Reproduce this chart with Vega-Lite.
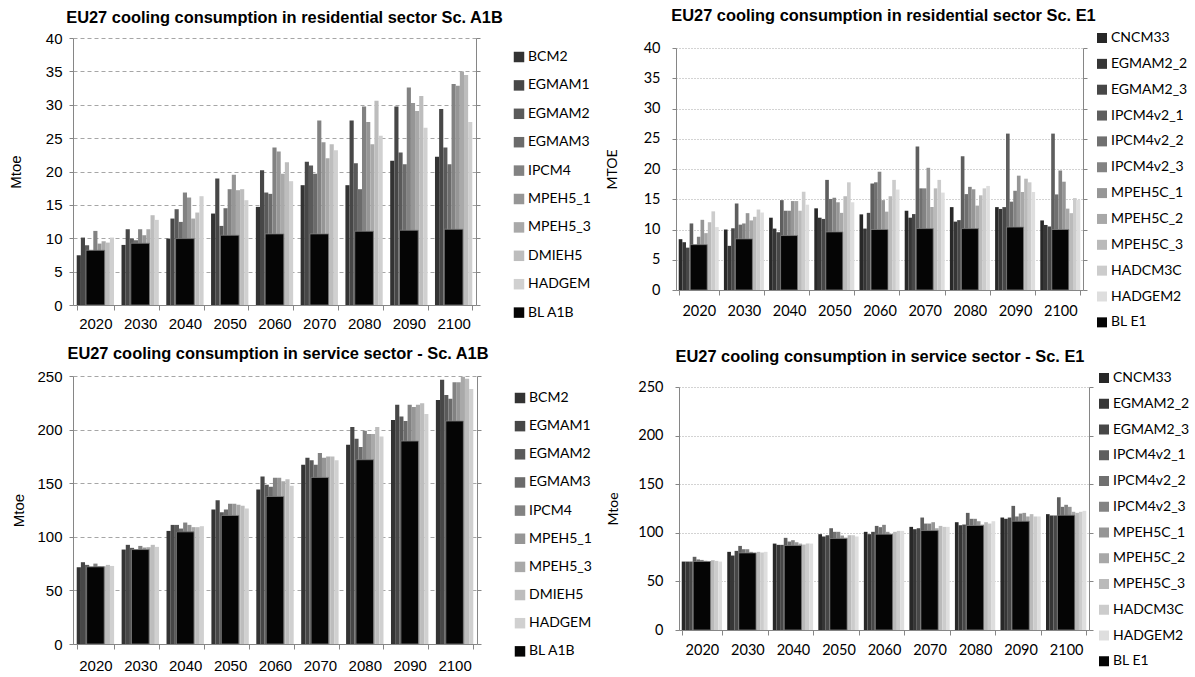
{
"$schema": "https://vega.github.io/schema/vega-lite/v6.json",
"background": "white",
"padding": {"left": 8, "top": 7, "right": 0, "bottom": 0},
"config": {"view": {"stroke": null}, "axis": {"domainColor": "#868686", "tickColor": "#868686", "labelColor": "#000000", "titleColor": "#000000"}},
"datasets": {
"p1": [
{"year":"2020","model":"BCM2","value":7.45},{"year":"2020","model":"EGMAM1","value":10.1},{"year":"2020","model":"EGMAM2","value":8.95},{"year":"2020","model":"EGMAM3","value":7.9},{"year":"2020","model":"IPCM4","value":11.1},{"year":"2020","model":"MPEH5_1","value":9.2},{"year":"2020","model":"MPEH5_3","value":9.55},{"year":"2020","model":"DMIEH5","value":9.35},{"year":"2020","model":"HADGEM","value":10.1},
{"year":"2030","model":"BCM2","value":9.0},{"year":"2030","model":"EGMAM1","value":11.35},{"year":"2030","model":"EGMAM2","value":9.95},{"year":"2030","model":"EGMAM3","value":9.7},{"year":"2030","model":"IPCM4","value":11.35},{"year":"2030","model":"MPEH5_1","value":10.45},{"year":"2030","model":"MPEH5_3","value":11.35},{"year":"2030","model":"DMIEH5","value":13.45},{"year":"2030","model":"HADGEM","value":12.75},
{"year":"2040","model":"BCM2","value":9.95},{"year":"2040","model":"EGMAM1","value":12.95},{"year":"2040","model":"EGMAM2","value":14.35},{"year":"2040","model":"EGMAM3","value":12.45},{"year":"2040","model":"IPCM4","value":16.85},{"year":"2040","model":"MPEH5_1","value":16.1},{"year":"2040","model":"MPEH5_3","value":12.95},{"year":"2040","model":"DMIEH5","value":13.85},{"year":"2040","model":"HADGEM","value":16.3},
{"year":"2050","model":"BCM2","value":13.7},{"year":"2050","model":"EGMAM1","value":18.95},{"year":"2050","model":"EGMAM2","value":11.85},{"year":"2050","model":"EGMAM3","value":14.5},{"year":"2050","model":"IPCM4","value":17.35},{"year":"2050","model":"MPEH5_1","value":19.5},{"year":"2050","model":"MPEH5_3","value":17.2},{"year":"2050","model":"DMIEH5","value":17.35},{"year":"2050","model":"HADGEM","value":15.7},
{"year":"2060","model":"BCM2","value":14.7},{"year":"2060","model":"EGMAM1","value":20.2},{"year":"2060","model":"EGMAM2","value":16.85},{"year":"2060","model":"EGMAM3","value":16.65},{"year":"2060","model":"IPCM4","value":23.6},{"year":"2060","model":"MPEH5_1","value":23.0},{"year":"2060","model":"MPEH5_3","value":19.65},{"year":"2060","model":"DMIEH5","value":21.4},{"year":"2060","model":"HADGEM","value":18.55},
{"year":"2070","model":"BCM2","value":17.95},{"year":"2070","model":"EGMAM1","value":21.45},{"year":"2070","model":"EGMAM2","value":20.9},{"year":"2070","model":"EGMAM3","value":19.65},{"year":"2070","model":"IPCM4","value":27.65},{"year":"2070","model":"MPEH5_1","value":24.4},{"year":"2070","model":"MPEH5_3","value":22.0},{"year":"2070","model":"DMIEH5","value":24.1},{"year":"2070","model":"HADGEM","value":23.2},
{"year":"2080","model":"BCM2","value":17.95},{"year":"2080","model":"EGMAM1","value":27.65},{"year":"2080","model":"EGMAM2","value":21.25},{"year":"2080","model":"EGMAM3","value":17.35},{"year":"2080","model":"IPCM4","value":29.75},{"year":"2080","model":"MPEH5_1","value":27.4},{"year":"2080","model":"MPEH5_3","value":24.1},{"year":"2080","model":"DMIEH5","value":30.6},{"year":"2080","model":"HADGEM","value":25.35},
{"year":"2090","model":"BCM2","value":21.6},{"year":"2090","model":"EGMAM1","value":29.75},{"year":"2090","model":"EGMAM2","value":22.85},{"year":"2090","model":"EGMAM3","value":21.1},{"year":"2090","model":"IPCM4","value":32.6},{"year":"2090","model":"MPEH5_1","value":30.25},{"year":"2090","model":"MPEH5_3","value":29.05},{"year":"2090","model":"DMIEH5","value":31.3},{"year":"2090","model":"HADGEM","value":26.55},
{"year":"2100","model":"BCM2","value":22.2},{"year":"2100","model":"EGMAM1","value":29.35},{"year":"2100","model":"EGMAM2","value":23.6},{"year":"2100","model":"EGMAM3","value":21.1},{"year":"2100","model":"IPCM4","value":33.1},{"year":"2100","model":"MPEH5_1","value":32.85},{"year":"2100","model":"MPEH5_3","value":35.0},{"year":"2100","model":"DMIEH5","value":34.45},{"year":"2100","model":"HADGEM","value":27.4}
],
"p1bl": [
{"year":"2020","model":"BL A1B","value":8.2},{"year":"2030","model":"BL A1B","value":9.25},{"year":"2040","model":"BL A1B","value":9.95},{"year":"2050","model":"BL A1B","value":10.45},{"year":"2060","model":"BL A1B","value":10.65},{"year":"2070","model":"BL A1B","value":10.65},{"year":"2080","model":"BL A1B","value":11.05},{"year":"2090","model":"BL A1B","value":11.2},{"year":"2100","model":"BL A1B","value":11.35}
],
"p2": [
{"year":"2020","model":"CNCM33","value":8.4},{"year":"2020","model":"EGMAM2_2","value":7.9},{"year":"2020","model":"EGMAM2_3","value":7.0},{"year":"2020","model":"IPCM4v2_1","value":11.0},{"year":"2020","model":"IPCM4v2_2","value":7.3},{"year":"2020","model":"IPCM4v2_3","value":8.8},{"year":"2020","model":"MPEH5C_1","value":11.6},{"year":"2020","model":"MPEH5C_2","value":9.4},{"year":"2020","model":"MPEH5C_3","value":11.2},{"year":"2020","model":"HADCM3C","value":13.0},{"year":"2020","model":"HADGEM2","value":10.4},
{"year":"2030","model":"CNCM33","value":10.0},{"year":"2030","model":"EGMAM2_2","value":7.3},{"year":"2030","model":"EGMAM2_3","value":10.2},{"year":"2030","model":"IPCM4v2_1","value":14.3},{"year":"2030","model":"IPCM4v2_2","value":10.8},{"year":"2030","model":"IPCM4v2_3","value":11.0},{"year":"2030","model":"MPEH5C_1","value":12.7},{"year":"2030","model":"MPEH5C_2","value":11.5},{"year":"2030","model":"MPEH5C_3","value":12.1},{"year":"2030","model":"HADCM3C","value":13.3},{"year":"2030","model":"HADGEM2","value":12.8},
{"year":"2040","model":"CNCM33","value":11.95},{"year":"2040","model":"EGMAM2_2","value":10.15},{"year":"2040","model":"EGMAM2_3","value":9.55},{"year":"2040","model":"IPCM4v2_1","value":14.85},{"year":"2040","model":"IPCM4v2_2","value":13.1},{"year":"2040","model":"IPCM4v2_3","value":13.1},{"year":"2040","model":"MPEH5C_1","value":14.7},{"year":"2040","model":"MPEH5C_2","value":14.7},{"year":"2040","model":"MPEH5C_3","value":13.1},{"year":"2040","model":"HADCM3C","value":16.25},{"year":"2040","model":"HADGEM2","value":14.1},
{"year":"2050","model":"CNCM33","value":13.5},{"year":"2050","model":"EGMAM2_2","value":11.95},{"year":"2050","model":"EGMAM2_3","value":11.75},{"year":"2050","model":"IPCM4v2_1","value":18.2},{"year":"2050","model":"IPCM4v2_2","value":15.05},{"year":"2050","model":"IPCM4v2_3","value":15.25},{"year":"2050","model":"MPEH5C_1","value":14.5},{"year":"2050","model":"MPEH5C_2","value":12.75},{"year":"2050","model":"MPEH5C_3","value":15.5},{"year":"2050","model":"HADCM3C","value":17.8},{"year":"2050","model":"HADGEM2","value":14.5},
{"year":"2060","model":"CNCM33","value":12.5},{"year":"2060","model":"EGMAM2_2","value":10.15},{"year":"2060","model":"EGMAM2_3","value":12.75},{"year":"2060","model":"IPCM4v2_1","value":17.6},{"year":"2060","model":"IPCM4v2_2","value":17.8},{"year":"2060","model":"IPCM4v2_3","value":19.55},{"year":"2060","model":"MPEH5C_1","value":14.85},{"year":"2060","model":"MPEH5C_2","value":12.95},{"year":"2060","model":"MPEH5C_3","value":15.5},{"year":"2060","model":"HADCM3C","value":18.2},{"year":"2060","model":"HADGEM2","value":16.6},
{"year":"2070","model":"CNCM33","value":13.1},{"year":"2070","model":"EGMAM2_2","value":11.95},{"year":"2070","model":"EGMAM2_3","value":12.55},{"year":"2070","model":"IPCM4v2_1","value":23.7},{"year":"2070","model":"IPCM4v2_2","value":16.8},{"year":"2070","model":"IPCM4v2_3","value":16.8},{"year":"2070","model":"MPEH5C_1","value":20.2},{"year":"2070","model":"MPEH5C_2","value":13.7},{"year":"2070","model":"MPEH5C_3","value":16.8},{"year":"2070","model":"HADCM3C","value":18.2},{"year":"2070","model":"HADGEM2","value":16.1},
{"year":"2080","model":"CNCM33","value":13.7},{"year":"2080","model":"EGMAM2_2","value":11.3},{"year":"2080","model":"EGMAM2_3","value":11.55},{"year":"2080","model":"IPCM4v2_1","value":22.1},{"year":"2080","model":"IPCM4v2_2","value":15.85},{"year":"2080","model":"IPCM4v2_3","value":17.05},{"year":"2080","model":"MPEH5C_1","value":16.65},{"year":"2080","model":"MPEH5C_2","value":13.95},{"year":"2080","model":"MPEH5C_3","value":15.65},{"year":"2080","model":"HADCM3C","value":16.8},{"year":"2080","model":"HADGEM2","value":17.2},
{"year":"2090","model":"CNCM33","value":13.7},{"year":"2090","model":"EGMAM2_2","value":13.4},{"year":"2090","model":"EGMAM2_3","value":13.7},{"year":"2090","model":"IPCM4v2_1","value":25.85},{"year":"2090","model":"IPCM4v2_2","value":14.6},{"year":"2090","model":"IPCM4v2_3","value":16.4},{"year":"2090","model":"MPEH5C_1","value":18.9},{"year":"2090","model":"MPEH5C_2","value":16.2},{"year":"2090","model":"MPEH5C_3","value":18.4},{"year":"2090","model":"HADCM3C","value":17.8},{"year":"2090","model":"HADGEM2","value":16.2},
{"year":"2100","model":"CNCM33","value":11.5},{"year":"2100","model":"EGMAM2_2","value":10.75},{"year":"2100","model":"EGMAM2_3","value":10.5},{"year":"2100","model":"IPCM4v2_1","value":25.85},{"year":"2100","model":"IPCM4v2_2","value":15.8},{"year":"2100","model":"IPCM4v2_3","value":19.75},{"year":"2100","model":"MPEH5C_1","value":17.9},{"year":"2100","model":"MPEH5C_2","value":13.45},{"year":"2100","model":"MPEH5C_3","value":12.7},{"year":"2100","model":"HADCM3C","value":15.2},{"year":"2100","model":"HADGEM2","value":14.9}
],
"p2bl": [
{"year":"2020","model":"BL E1","value":7.5},{"year":"2030","model":"BL E1","value":8.45},{"year":"2040","model":"BL E1","value":9.0},{"year":"2050","model":"BL E1","value":9.6},{"year":"2060","model":"BL E1","value":10.0},{"year":"2070","model":"BL E1","value":10.15},{"year":"2080","model":"BL E1","value":10.15},{"year":"2090","model":"BL E1","value":10.4},{"year":"2100","model":"BL E1","value":10.0}
],
"p3": [
{"year":"2020","model":"BCM2","value":71.6},{"year":"2020","model":"EGMAM1","value":76.3},{"year":"2020","model":"EGMAM2","value":73.8},{"year":"2020","model":"EGMAM3","value":71.0},{"year":"2020","model":"IPCM4","value":75.0},{"year":"2020","model":"MPEH5_1","value":72.5},{"year":"2020","model":"MPEH5_3","value":72.5},{"year":"2020","model":"DMIEH5","value":73.8},{"year":"2020","model":"HADGEM","value":72.8},
{"year":"2030","model":"BCM2","value":88.1},{"year":"2030","model":"EGMAM1","value":92.5},{"year":"2030","model":"EGMAM2","value":89.7},{"year":"2030","model":"EGMAM3","value":88.0},{"year":"2030","model":"IPCM4","value":91.5},{"year":"2030","model":"MPEH5_1","value":90.0},{"year":"2030","model":"MPEH5_3","value":90.3},{"year":"2030","model":"DMIEH5","value":92.5},{"year":"2030","model":"HADGEM","value":90.6},
{"year":"2040","model":"BCM2","value":105.5},{"year":"2040","model":"EGMAM1","value":111.1},{"year":"2040","model":"EGMAM2","value":111.1},{"year":"2040","model":"EGMAM3","value":107.7},{"year":"2040","model":"IPCM4","value":113.3},{"year":"2040","model":"MPEH5_1","value":111.1},{"year":"2040","model":"MPEH5_3","value":109.0},{"year":"2040","model":"DMIEH5","value":109.0},{"year":"2040","model":"HADGEM","value":109.9},
{"year":"2050","model":"BCM2","value":125.5},{"year":"2050","model":"EGMAM1","value":134.2},{"year":"2050","model":"EGMAM2","value":123.0},{"year":"2050","model":"EGMAM3","value":125.5},{"year":"2050","model":"IPCM4","value":130.8},{"year":"2050","model":"MPEH5_1","value":130.8},{"year":"2050","model":"MPEH5_3","value":129.8},{"year":"2050","model":"DMIEH5","value":128.9},{"year":"2050","model":"HADGEM","value":126.4},
{"year":"2060","model":"BCM2","value":144.1},{"year":"2060","model":"EGMAM1","value":156.3},{"year":"2060","model":"EGMAM2","value":148.5},{"year":"2060","model":"EGMAM3","value":146.6},{"year":"2060","model":"IPCM4","value":155.0},{"year":"2060","model":"MPEH5_1","value":155.0},{"year":"2060","model":"MPEH5_3","value":151.9},{"year":"2060","model":"DMIEH5","value":153.8},{"year":"2060","model":"HADGEM","value":147.6},
{"year":"2070","model":"BCM2","value":167.2},{"year":"2070","model":"EGMAM1","value":173.7},{"year":"2070","model":"EGMAM2","value":171.5},{"year":"2070","model":"EGMAM3","value":167.2},{"year":"2070","model":"IPCM4","value":178.1},{"year":"2070","model":"MPEH5_1","value":173.7},{"year":"2070","model":"MPEH5_3","value":175.0},{"year":"2070","model":"DMIEH5","value":175.0},{"year":"2070","model":"HADGEM","value":171.5},
{"year":"2080","model":"BCM2","value":185.9},{"year":"2080","model":"EGMAM1","value":202.4},{"year":"2080","model":"EGMAM2","value":191.5},{"year":"2080","model":"EGMAM3","value":183.7},{"year":"2080","model":"IPCM4","value":199.0},{"year":"2080","model":"MPEH5_1","value":195.8},{"year":"2080","model":"MPEH5_3","value":195.8},{"year":"2080","model":"DMIEH5","value":202.4},{"year":"2080","model":"HADGEM","value":193.6},
{"year":"2090","model":"BCM2","value":208.9},{"year":"2090","model":"EGMAM1","value":223.2},{"year":"2090","model":"EGMAM2","value":212.3},{"year":"2090","model":"EGMAM3","value":208.0},{"year":"2090","model":"IPCM4","value":223.2},{"year":"2090","model":"MPEH5_1","value":221.0},{"year":"2090","model":"MPEH5_3","value":223.2},{"year":"2090","model":"DMIEH5","value":224.5},{"year":"2090","model":"HADGEM","value":214.5},
{"year":"2100","model":"BCM2","value":227.6},{"year":"2100","model":"EGMAM1","value":246.6},{"year":"2100","model":"EGMAM2","value":232.3},{"year":"2100","model":"EGMAM3","value":228.8},{"year":"2100","model":"IPCM4","value":244.1},{"year":"2100","model":"MPEH5_1","value":244.1},{"year":"2100","model":"MPEH5_3","value":249.4},{"year":"2100","model":"DMIEH5","value":247.5},{"year":"2100","model":"HADGEM","value":237.9}
],
"p3bl": [
{"year":"2020","model":"BL A1B","value":72.0},{"year":"2030","model":"BL A1B","value":88.1},{"year":"2040","model":"BL A1B","value":104.6},{"year":"2050","model":"BL A1B","value":119.9},{"year":"2060","model":"BL A1B","value":137.6},{"year":"2070","model":"BL A1B","value":155.4},{"year":"2080","model":"BL A1B","value":171.9},{"year":"2090","model":"BL A1B","value":189.3},{"year":"2100","model":"BL A1B","value":208.0}
],
"p4": [
{"year":"2020","model":"CNCM33","value":70.4},{"year":"2020","model":"EGMAM2_2","value":70.4},{"year":"2020","model":"EGMAM2_3","value":70.4},{"year":"2020","model":"IPCM4v2_1","value":75.3},{"year":"2020","model":"IPCM4v2_2","value":72.6},{"year":"2020","model":"IPCM4v2_3","value":72.1},{"year":"2020","model":"MPEH5C_1","value":71.2},{"year":"2020","model":"MPEH5C_2","value":70.5},{"year":"2020","model":"MPEH5C_3","value":71.8},{"year":"2020","model":"HADCM3C","value":71.1},{"year":"2020","model":"HADGEM2","value":70.4},
{"year":"2030","model":"CNCM33","value":80.4},{"year":"2030","model":"EGMAM2_2","value":76.6},{"year":"2030","model":"EGMAM2_3","value":81.4},{"year":"2030","model":"IPCM4v2_1","value":86.5},{"year":"2030","model":"IPCM4v2_2","value":83.1},{"year":"2030","model":"IPCM4v2_3","value":83.1},{"year":"2030","model":"MPEH5C_1","value":80.4},{"year":"2030","model":"MPEH5C_2","value":79.0},{"year":"2030","model":"MPEH5C_3","value":80.4},{"year":"2030","model":"HADCM3C","value":79.7},{"year":"2030","model":"HADGEM2","value":80.4},
{"year":"2040","model":"CNCM33","value":88.9},{"year":"2040","model":"EGMAM2_2","value":87.6},{"year":"2040","model":"EGMAM2_3","value":87.6},{"year":"2040","model":"IPCM4v2_1","value":94.8},{"year":"2040","model":"IPCM4v2_2","value":91.0},{"year":"2040","model":"IPCM4v2_3","value":92.4},{"year":"2040","model":"MPEH5C_1","value":90.3},{"year":"2040","model":"MPEH5C_2","value":88.9},{"year":"2040","model":"MPEH5C_3","value":87.9},{"year":"2040","model":"HADCM3C","value":88.9},{"year":"2040","model":"HADGEM2","value":88.9},
{"year":"2050","model":"CNCM33","value":98.6},{"year":"2050","model":"EGMAM2_2","value":96.2},{"year":"2050","model":"EGMAM2_3","value":97.5},{"year":"2050","model":"IPCM4v2_1","value":104.7},{"year":"2050","model":"IPCM4v2_2","value":101.0},{"year":"2050","model":"IPCM4v2_3","value":101.0},{"year":"2050","model":"MPEH5C_1","value":97.2},{"year":"2050","model":"MPEH5C_2","value":95.1},{"year":"2050","model":"MPEH5C_3","value":97.5},{"year":"2050","model":"HADCM3C","value":97.5},{"year":"2050","model":"HADGEM2","value":96.2},
{"year":"2060","model":"CNCM33","value":101.0},{"year":"2060","model":"EGMAM2_2","value":98.6},{"year":"2060","model":"EGMAM2_3","value":101.0},{"year":"2060","model":"IPCM4v2_1","value":107.1},{"year":"2060","model":"IPCM4v2_2","value":105.8},{"year":"2060","model":"IPCM4v2_3","value":108.2},{"year":"2060","model":"MPEH5C_1","value":101.0},{"year":"2060","model":"MPEH5C_2","value":98.6},{"year":"2060","model":"MPEH5C_3","value":101.0},{"year":"2060","model":"HADCM3C","value":102.0},{"year":"2060","model":"HADGEM2","value":102.0},
{"year":"2070","model":"CNCM33","value":106.1},{"year":"2070","model":"EGMAM2_2","value":103.7},{"year":"2070","model":"EGMAM2_3","value":104.7},{"year":"2070","model":"IPCM4v2_1","value":115.7},{"year":"2070","model":"IPCM4v2_2","value":109.5},{"year":"2070","model":"IPCM4v2_3","value":109.5},{"year":"2070","model":"MPEH5C_1","value":110.9},{"year":"2070","model":"MPEH5C_2","value":104.7},{"year":"2070","model":"MPEH5C_3","value":107.1},{"year":"2070","model":"HADCM3C","value":106.1},{"year":"2070","model":"HADGEM2","value":106.1},
{"year":"2080","model":"CNCM33","value":110.9},{"year":"2080","model":"EGMAM2_2","value":107.8},{"year":"2080","model":"EGMAM2_3","value":108.5},{"year":"2080","model":"IPCM4v2_1","value":120.5},{"year":"2080","model":"IPCM4v2_2","value":114.4},{"year":"2080","model":"IPCM4v2_3","value":114.4},{"year":"2080","model":"MPEH5C_1","value":111.9},{"year":"2080","model":"MPEH5C_2","value":108.5},{"year":"2080","model":"MPEH5C_3","value":110.9},{"year":"2080","model":"HADCM3C","value":109.5},{"year":"2080","model":"HADGEM2","value":111.9},
{"year":"2090","model":"CNCM33","value":115.7},{"year":"2090","model":"EGMAM2_2","value":114.4},{"year":"2090","model":"EGMAM2_3","value":115.7},{"year":"2090","model":"IPCM4v2_1","value":127.7},{"year":"2090","model":"IPCM4v2_2","value":116.8},{"year":"2090","model":"IPCM4v2_3","value":119.8},{"year":"2090","model":"MPEH5C_1","value":120.5},{"year":"2090","model":"MPEH5C_2","value":116.8},{"year":"2090","model":"MPEH5C_3","value":119.2},{"year":"2090","model":"HADCM3C","value":116.8},{"year":"2090","model":"HADGEM2","value":116.8},
{"year":"2100","model":"CNCM33","value":119.2},{"year":"2100","model":"EGMAM2_2","value":117.8},{"year":"2100","model":"EGMAM2_3","value":117.8},{"year":"2100","model":"IPCM4v2_1","value":136.7},{"year":"2100","model":"IPCM4v2_2","value":126.7},{"year":"2100","model":"IPCM4v2_3","value":128.8},{"year":"2100","model":"MPEH5C_1","value":126.7},{"year":"2100","model":"MPEH5C_2","value":121.6},{"year":"2100","model":"MPEH5C_3","value":120.5},{"year":"2100","model":"HADCM3C","value":121.6},{"year":"2100","model":"HADGEM2","value":122.6}
],
"p4bl": [
{"year":"2020","model":"BL E1","value":70.5},{"year":"2030","model":"BL E1","value":79.3},{"year":"2040","model":"BL E1","value":86.9},{"year":"2050","model":"BL E1","value":94.1},{"year":"2060","model":"BL E1","value":98.6},{"year":"2070","model":"BL E1","value":102.3},{"year":"2080","model":"BL E1","value":107.5},{"year":"2090","model":"BL E1","value":111.9},{"year":"2100","model":"BL E1","value":118.1}
]
},
"spacing": 14,
"resolve": {"scale": {"color": "independent", "x": "independent", "y": "independent", "xOffset": "independent"}, "legend": {"color": "independent"}},
"vconcat": [
{"hconcat": [
{"width": 403, "height": 267,
 "title": {"text": "EU27 cooling consumption in residential sector Sc. A1B", "font": "Liberation Sans", "fontSize": 16.4, "fontWeight": "bold", "color": "#000000", "offset": 5, "frame": "group", "anchor": "middle", "dx": 10},
 "resolve": {"scale": {"y": "independent"}, "axis": {"y": "independent"}},
 "layer": [
  {"data": {"name": "p1"}, "mark": {"type": "bar"},
   "encoding": {
    "x": {"field": "year", "type": "ordinal", "scale": {"paddingInner": 0.167, "paddingOuter": 0.083}, "axis": {"title": null, "labelAngle": 0, "tickBand": "extent", "tickSize": 5, "labelFont": "Liberation Sans", "labelFontSize": 15, "labelPadding": 6, "grid": false}},
    "xOffset": {"field": "model", "type": "nominal", "sort": ["BCM2","EGMAM1","EGMAM2","EGMAM3","IPCM4","MPEH5_1","MPEH5_3","DMIEH5","HADGEM"], "scale": {"paddingInner": 0, "paddingOuter": 0}},
    "y": {"field": "value", "type": "quantitative", "scale": {"domain": [0, 40], "nice": false}, "axis": {"title": "Mtoe", "titleFont": "Liberation Sans", "titleFontSize": 15, "titleFontWeight": "normal", "titlePadding": 22, "values": [0,5,10,15,20,25,30,35,40], "labelFont": "Liberation Sans", "labelFontSize": 15, "labelPadding": 7, "tickSize": 4, "grid": true, "gridColor": "#a6a6a6", "gridDash": [4, 3]}},
    "color": {"field": "model", "type": "nominal", "scale": {"domain": ["BCM2","EGMAM1","EGMAM2","EGMAM3","IPCM4","MPEH5_1","MPEH5_3","DMIEH5","HADGEM","BL A1B"], "range": ["#333333","#474747","#5a5a5a","#6b6b6b","#828282","#969696","#a9a9a9","#bdbdbd","#d0d0d0","#050505"]},
     "legend": {"orient": "none", "legendX": 439, "legendY": 12, "title": null, "symbolType": "square", "symbolSize": 110, "symbolStrokeWidth": 0, "labelFont": "Lato", "labelFontSize": 14, "labelColor": "#000000", "rowPadding": 14.4, "labelOffset": 2, "padding": 0}}
   }},
  {"data": {"name": "p1bl"}, "mark": {"type": "bar", "width": {"band": 0.5}, "stroke": "#808080", "strokeWidth": 0.8},
   "encoding": {
    "x": {"field": "year", "type": "ordinal", "scale": {"paddingInner": 0.167, "paddingOuter": 0.083}},
    "y": {"field": "value", "type": "quantitative", "scale": {"domain": [0, 40], "nice": false}, "axis": {"orient": "right", "labels": false, "title": null, "grid": false, "values": [0,5,10,15,20,25,30,35,40], "tickSize": 4}},
    "color": {"field": "model", "type": "nominal"}
   }}
 ]},
{"width": 407, "height": 252,
 "title": {"text": "EU27 cooling consumption in residential sector Sc. E1", "font": "Liberation Sans", "fontSize": 16.4, "fontWeight": "bold", "color": "#000000", "offset": 7, "frame": "group", "anchor": "middle", "dx": 4},
 "resolve": {"scale": {"y": "independent"}, "axis": {"y": "independent"}},
 "layer": [
  {"data": {"name": "p2"}, "mark": {"type": "bar"},
   "encoding": {
    "x": {"field": "year", "type": "ordinal", "scale": {"paddingInner": 0.115, "paddingOuter": 0.06}, "axis": {"title": null, "labelAngle": 0, "tickBand": "extent", "tickSize": 5, "labelFont": "Lato", "labelFontSize": 14.5, "labelPadding": 9, "grid": false}},
    "xOffset": {"field": "model", "type": "nominal", "sort": ["CNCM33","EGMAM2_2","EGMAM2_3","IPCM4v2_1","IPCM4v2_2","IPCM4v2_3","MPEH5C_1","MPEH5C_2","MPEH5C_3","HADCM3C","HADGEM2"], "scale": {"paddingInner": 0, "paddingOuter": 0}},
    "y": {"field": "value", "type": "quantitative", "scale": {"domain": [0, 40], "nice": false, "range": [252, 10]}, "axis": {"title": "MTOE", "titleFont": "Lato", "titleFontSize": 14, "titleFontWeight": "normal", "titlePadding": 24, "values": [0,5,10,15,20,25,30,35,40], "labelFont": "Lato", "labelFontSize": 14.5, "labelPadding": 12, "tickSize": 4, "grid": true, "gridColor": "#a6a6a6", "gridDash": [1, 2]}},
    "color": {"field": "model", "type": "nominal", "scale": {"domain": ["CNCM33","EGMAM2_2","EGMAM2_3","IPCM4v2_1","IPCM4v2_2","IPCM4v2_3","MPEH5C_1","MPEH5C_2","MPEH5C_3","HADCM3C","HADGEM2","BL E1"], "range": ["#282828","#363636","#474747","#5e5e5e","#707070","#838383","#969696","#a8a8a8","#bababa","#cccccc","#dedede","#050505"]},
     "legend": {"orient": "none", "legendX": 419, "legendY": -7, "title": null, "symbolType": "square", "symbolSize": 100, "symbolStrokeWidth": 0, "labelFont": "Lato", "labelFontSize": 14, "labelColor": "#000000", "rowPadding": 11.85, "labelOffset": 2, "padding": 0}}
   }},
  {"data": {"name": "p2bl"}, "mark": {"type": "bar", "width": {"band": 0.425}, "stroke": "#808080", "strokeWidth": 0.8},
   "encoding": {
    "x": {"field": "year", "type": "ordinal", "scale": {"paddingInner": 0.115, "paddingOuter": 0.06}},
    "y": {"field": "value", "type": "quantitative", "scale": {"domain": [0, 40], "nice": false, "range": [252, 10]}, "axis": {"orient": "right", "labels": false, "title": null, "grid": false, "values": [0,5,10,15,20,25,30,35,40], "tickSize": 4}},
    "color": {"field": "model", "type": "nominal"}
   }}
 ]}
], "spacing": 14, "resolve": {"scale": {"color": "independent", "x": "independent", "y": "independent", "xOffset": "independent"}, "legend": {"color": "independent"}}},
{"hconcat": [
{"width": 404, "height": 268,
 "title": {"text": "EU27 cooling consumption in service sector - Sc. A1B", "font": "Liberation Sans", "fontSize": 16.4, "fontWeight": "bold", "color": "#000000", "offset": 7, "frame": "group", "anchor": "middle", "dx": 3},
 "resolve": {"scale": {"y": "independent"}, "axis": {"y": "independent"}},
 "layer": [
  {"data": {"name": "p3"}, "mark": {"type": "bar"},
   "encoding": {
    "x": {"field": "year", "type": "ordinal", "scale": {"paddingInner": 0.167, "paddingOuter": 0.083}, "axis": {"title": null, "labelAngle": 0, "tickBand": "extent", "tickSize": 5, "labelFont": "Liberation Sans", "labelFontSize": 15, "labelPadding": 9, "grid": false}},
    "xOffset": {"field": "model", "type": "nominal", "sort": ["BCM2","EGMAM1","EGMAM2","EGMAM3","IPCM4","MPEH5_1","MPEH5_3","DMIEH5","HADGEM"], "scale": {"paddingInner": 0, "paddingOuter": 0}},
    "y": {"field": "value", "type": "quantitative", "scale": {"domain": [0, 250], "nice": false}, "axis": {"title": "Mtoe", "titleFont": "Liberation Sans", "titleFontSize": 15, "titleFontWeight": "normal", "titlePadding": 10, "values": [0,50,100,150,200,250], "labelFont": "Liberation Sans", "labelFontSize": 15, "labelPadding": 7, "tickSize": 4, "grid": true, "gridColor": "#a6a6a6", "gridDash": [4, 3]}},
    "color": {"field": "model", "type": "nominal", "scale": {"domain": ["BCM2","EGMAM1","EGMAM2","EGMAM3","IPCM4","MPEH5_1","MPEH5_3","DMIEH5","HADGEM","BL A1B"], "range": ["#333333","#474747","#5a5a5a","#6b6b6b","#828282","#969696","#a9a9a9","#bdbdbd","#d0d0d0","#050505"]},
     "legend": {"orient": "none", "legendX": 440, "legendY": 15, "title": null, "symbolType": "square", "symbolSize": 110, "symbolStrokeWidth": 0, "labelFont": "Lato", "labelFontSize": 14, "labelColor": "#000000", "rowPadding": 14.15, "labelOffset": 2, "padding": 0}}
   }},
  {"data": {"name": "p3bl"}, "mark": {"type": "bar", "width": {"band": 0.47}, "stroke": "#808080", "strokeWidth": 0.8},
   "encoding": {
    "x": {"field": "year", "type": "ordinal", "scale": {"paddingInner": 0.167, "paddingOuter": 0.083}},
    "y": {"field": "value", "type": "quantitative", "scale": {"domain": [0, 250], "nice": false}, "axis": {"orient": "right", "labels": false, "title": null, "grid": false, "values": [0,50,100,150,200,250], "tickSize": 4}},
    "color": {"field": "model", "type": "nominal"}
   }}
 ]},
{"width": 410, "height": 254,
 "title": {"text": "EU27 cooling consumption in service sector - Sc. E1", "font": "Liberation Sans", "fontSize": 16.4, "fontWeight": "bold", "color": "#000000", "offset": 6, "frame": "group", "anchor": "middle", "dx": -4},
 "resolve": {"scale": {"y": "independent"}, "axis": {"y": "independent"}},
 "layer": [
  {"data": {"name": "p4"}, "mark": {"type": "bar"},
   "encoding": {
    "x": {"field": "year", "type": "ordinal", "scale": {"paddingInner": 0.115, "paddingOuter": 0.06}, "axis": {"title": null, "labelAngle": 0, "tickBand": "extent", "tickSize": 5, "labelFont": "Lato", "labelFontSize": 14.5, "labelPadding": 8, "grid": false}},
    "xOffset": {"field": "model", "type": "nominal", "sort": ["CNCM33","EGMAM2_2","EGMAM2_3","IPCM4v2_1","IPCM4v2_2","IPCM4v2_3","MPEH5C_1","MPEH5C_2","MPEH5C_3","HADCM3C","HADGEM2"], "scale": {"paddingInner": 0, "paddingOuter": 0}},
    "y": {"field": "value", "type": "quantitative", "scale": {"domain": [0, 250], "nice": false, "range": [254, 11]}, "axis": {"title": "Mtoe", "titleFont": "Lato", "titleFontSize": 14, "titleFontWeight": "normal", "titlePadding": 17, "values": [0,50,100,150,200,250], "labelFont": "Lato", "labelFontSize": 14.5, "labelPadding": 12, "tickSize": 4, "grid": true, "gridColor": "#a6a6a6", "gridDash": [1, 2]}},
    "color": {"field": "model", "type": "nominal", "scale": {"domain": ["CNCM33","EGMAM2_2","EGMAM2_3","IPCM4v2_1","IPCM4v2_2","IPCM4v2_3","MPEH5C_1","MPEH5C_2","MPEH5C_3","HADCM3C","HADGEM2","BL E1"], "range": ["#282828","#363636","#474747","#5e5e5e","#707070","#838383","#969696","#a8a8a8","#bababa","#cccccc","#dedede","#050505"]},
     "legend": {"orient": "none", "legendX": 418, "legendY": -5, "title": null, "symbolType": "square", "symbolSize": 100, "symbolStrokeWidth": 0, "labelFont": "Lato", "labelFontSize": 14, "labelColor": "#000000", "rowPadding": 11.75, "labelOffset": 2, "padding": 0}}
   }},
  {"data": {"name": "p4bl"}, "mark": {"type": "bar", "width": {"band": 0.43}, "stroke": "#808080", "strokeWidth": 0.8},
   "encoding": {
    "x": {"field": "year", "type": "ordinal", "scale": {"paddingInner": 0.115, "paddingOuter": 0.06}},
    "y": {"field": "value", "type": "quantitative", "scale": {"domain": [0, 250], "nice": false, "range": [254, 11]}, "axis": {"orient": "right", "labels": false, "title": null, "grid": false, "values": [0,50,100,150,200,250], "tickSize": 4}},
    "color": {"field": "model", "type": "nominal"}
   }}
 ]}
], "spacing": 14, "resolve": {"scale": {"color": "independent", "x": "independent", "y": "independent", "xOffset": "independent"}, "legend": {"color": "independent"}}}
]
}
